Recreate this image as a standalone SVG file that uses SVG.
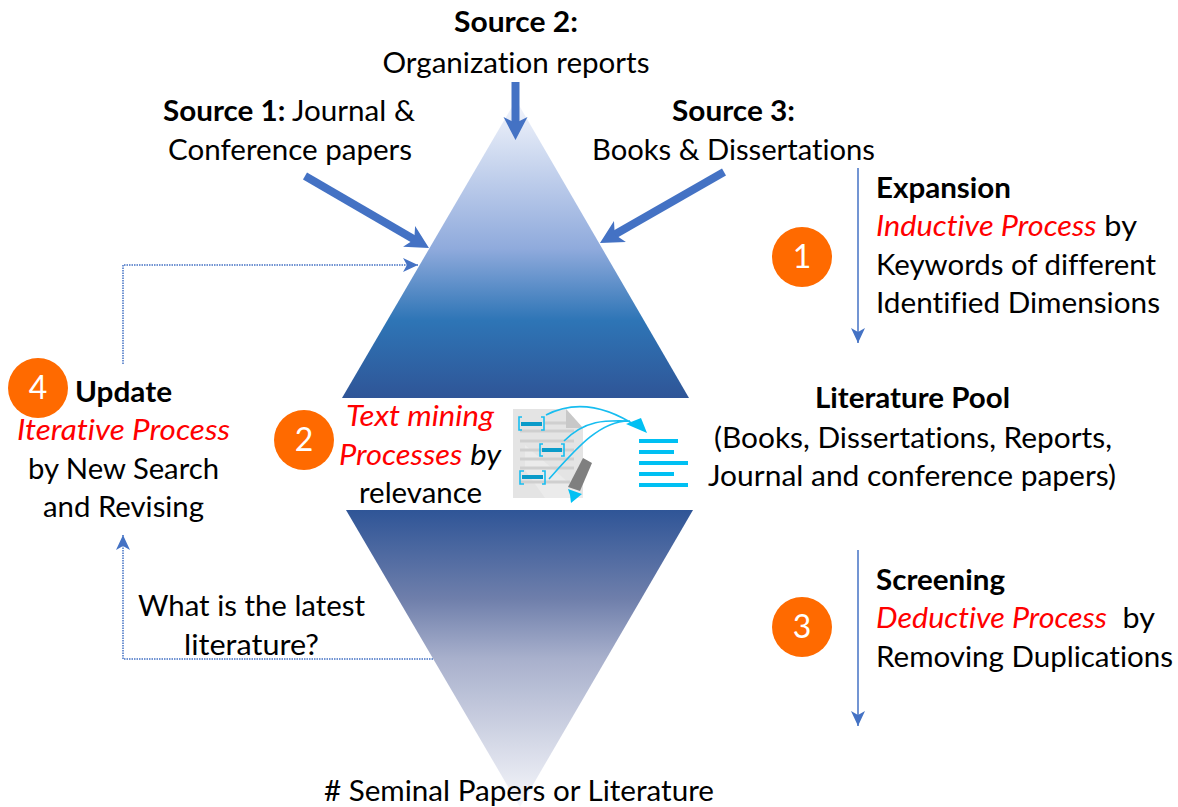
<svg xmlns="http://www.w3.org/2000/svg" width="1178" height="807" viewBox="0 0 1178 807">
<style>
text{font-family:Lato,"Open Sans","Liberation Sans",sans-serif;font-size:29px;fill:#000;font-variant-ligatures:none}
.b{font-weight:700}
.r{fill:#ff0000;font-style:italic}
.m{text-anchor:middle}
.n{font-size:32px;fill:#fff;text-anchor:middle}
.c{fill:#ff6a00}
.th{fill:none;stroke:#4472c4;stroke-width:8}
.tn{fill:none;stroke:#4472c4;stroke-width:1.5}
.d{fill:none;stroke:#4472c4;stroke-width:1.5;stroke-dasharray:1.5 1}
.ic{fill:none;stroke:#17bdf0;stroke-width:1.6}
.bl{fill:#00c0f3}
</style>
<defs>
<linearGradient id="gt" x1="0" y1="0" x2="0" y2="1">
<stop offset="0" stop-color="#f4f6fc"/><stop offset="0.5" stop-color="#8faadc"/><stop offset="0.74" stop-color="#2e75b6"/><stop offset="1" stop-color="#2f5597"/>
</linearGradient>
<linearGradient id="gb" x1="0" y1="0" x2="0" y2="1">
<stop offset="0" stop-color="#2f5597"/><stop offset="0.3" stop-color="#6f7fab"/><stop offset="0.5" stop-color="#a8b0cc"/><stop offset="1" stop-color="#f6f7fb"/>
</linearGradient>
<marker id="ah" markerUnits="userSpaceOnUse" markerWidth="26" markerHeight="26" refX="8" refY="12" orient="auto"><path d="M0 0L23 12L0 24L6 12Z" fill="#4472c4"/></marker>
<marker id="as" markerUnits="userSpaceOnUse" markerWidth="18" markerHeight="16" refX="15" refY="8" orient="auto"><path d="M0 1L15 8L0 15L4 8Z" fill="#4472c4"/></marker>
</defs>
<g id="pyramid-top"><path d="M516 100L689 398H342Z" fill="url(#gt)"/></g>
<g id="pyramid-bottom"><path d="M346 510H693L520 807Z" fill="url(#gb)"/></g>
<g id="connectors">
<path class="th" d="M515.5 82V125" marker-end="url(#ah)"/>
<path class="th" d="M305 176L416 240.5" marker-end="url(#ah)"/>
<path class="th" d="M724 172L613 235.5" marker-end="url(#ah)"/>
<path class="tn" d="M858 168V343" marker-end="url(#as)"/>
<path class="tn" d="M858 550V726" marker-end="url(#as)"/>
<path class="d" d="M123 364V265H418" marker-end="url(#as)"/>
<path class="d" d="M433 659H123V535" marker-end="url(#as)"/>
</g>
<g id="source-2"><text class="b m" x="516" y="32" textLength="124" lengthAdjust="spacingAndGlyphs">Source 2:</text><text class="m" x="516" y="73" textLength="267" lengthAdjust="spacingAndGlyphs">Organization reports</text></g>
<g id="source-1"><text x="163" y="121" textLength="252" lengthAdjust="spacingAndGlyphs"><tspan class="b">Source 1:</tspan> Journal &amp;</text><text x="168" y="160" textLength="244" lengthAdjust="spacingAndGlyphs">Conference papers</text></g>
<g id="source-3"><text class="b" x="672" y="121" textLength="123" lengthAdjust="spacingAndGlyphs">Source 3:</text><text x="592" y="160" textLength="283" lengthAdjust="spacingAndGlyphs">Books &amp; Dissertations</text></g>
<g id="step-1"><circle class="c" cx="802" cy="257" r="30"/><text class="n" x="802" y="268">1</text>
<text class="b" x="876" y="198" textLength="135" lengthAdjust="spacingAndGlyphs">Expansion</text>
<text x="876" y="236" textLength="261" lengthAdjust="spacingAndGlyphs"><tspan class="r">Inductive Process</tspan> by</text>
<text x="876" y="275" textLength="280" lengthAdjust="spacingAndGlyphs">Keywords of different</text>
<text x="876" y="313" textLength="284" lengthAdjust="spacingAndGlyphs">Identified Dimensions</text></g>
<g id="literature-pool"><text class="b" x="815" y="408" textLength="195" lengthAdjust="spacingAndGlyphs">Literature Pool</text>
<text x="714" y="448" textLength="398" lengthAdjust="spacingAndGlyphs">(Books, Dissertations, Reports,</text>
<text x="708" y="486" textLength="408" lengthAdjust="spacingAndGlyphs">Journal and conference papers)</text></g>
<g id="step-2"><circle class="c" cx="304" cy="440" r="30"/><text class="n" x="304" y="451">2</text>
<text class="r" x="346" y="426" textLength="148" lengthAdjust="spacingAndGlyphs">Text mining</text>
<text x="339" y="465" textLength="162" lengthAdjust="spacingAndGlyphs"><tspan class="r">Processes</tspan> <tspan font-style="italic">by</tspan></text>
<text x="359" y="503" textLength="123" lengthAdjust="spacingAndGlyphs">relevance</text></g>
<g id="text-mining-icon">
<path d="M513 409H566L583 428V498H513Z" fill="#e4e4e4"/>
<path d="M566 409L583 428H566Z" fill="#c8c8c8"/>
<path d="M525 445L583 495V498H545L525 470Z" fill="#eeeeee" opacity=".7"/>
<path d="M520 431H574M520 441H574M520 450H574M520 459H574M520 468H574M520 482H570" stroke="#cfcfcf" stroke-width="3"/>
<path d="M545 423H566" stroke="#cfcfcf" stroke-width="3"/>
<path class="ic" d="M522 417H519V430H522M541 417H544V430H541M543 444H540V456H543M561 444H564V456H561M524 471H520V484H524M542 471H545V484H542"/>
<path d="M521 424H542M542 450H562M522 477H543" stroke="#0a9bc9" stroke-width="4"/>
<path class="ic" d="M546 415C575 400 605 405 638 427M564 441C585 420 605 420 630 421M549 479C575 450 600 420 630 421"/>
<path class="bl" d="M626 424L641 418L647 433Z"/>
<path d="M568 487L583 458L592 463L580 491Z" fill="#7f7f7f"/>
<path class="bl" d="M568 489L582 494L571 503L570 495Z"/>
<path class="bl" d="M639 439H678V443H639ZM639 450H674V454H639ZM639 461H688V465H639ZM639 472H674V476H639ZM639 483H688V487H639Z"/>
</g>
<g id="step-3"><circle class="c" cx="802" cy="627" r="30"/><text class="n" x="802" y="638">3</text>
<text class="b" x="876" y="590" textLength="129" lengthAdjust="spacingAndGlyphs">Screening</text>
<text x="876" y="628" textLength="279" lengthAdjust="spacingAndGlyphs" xml:space="preserve"><tspan class="r">Deductive Process</tspan>  by</text>
<text x="876" y="667" textLength="297" lengthAdjust="spacingAndGlyphs">Removing Duplications</text></g>
<g id="step-4"><circle class="c" cx="38" cy="388" r="30"/><text class="n" x="38" y="399">4</text>
<text class="b" x="75" y="402" textLength="97" lengthAdjust="spacingAndGlyphs">Update</text>
<text class="r" x="17" y="440" textLength="213" lengthAdjust="spacingAndGlyphs">Iterative Process</text>
<text x="28" y="479" textLength="191" lengthAdjust="spacingAndGlyphs">by New Search</text>
<text x="43" y="517" textLength="161" lengthAdjust="spacingAndGlyphs">and Revising</text></g>
<g id="question"><text x="138" y="616" textLength="227" lengthAdjust="spacingAndGlyphs">What is the latest</text><text x="184" y="655" textLength="135" lengthAdjust="spacingAndGlyphs">literature?</text></g>
<g id="seminal"><text x="324" y="801" textLength="390" lengthAdjust="spacingAndGlyphs"># Seminal Papers or Literature</text></g>
</svg>
